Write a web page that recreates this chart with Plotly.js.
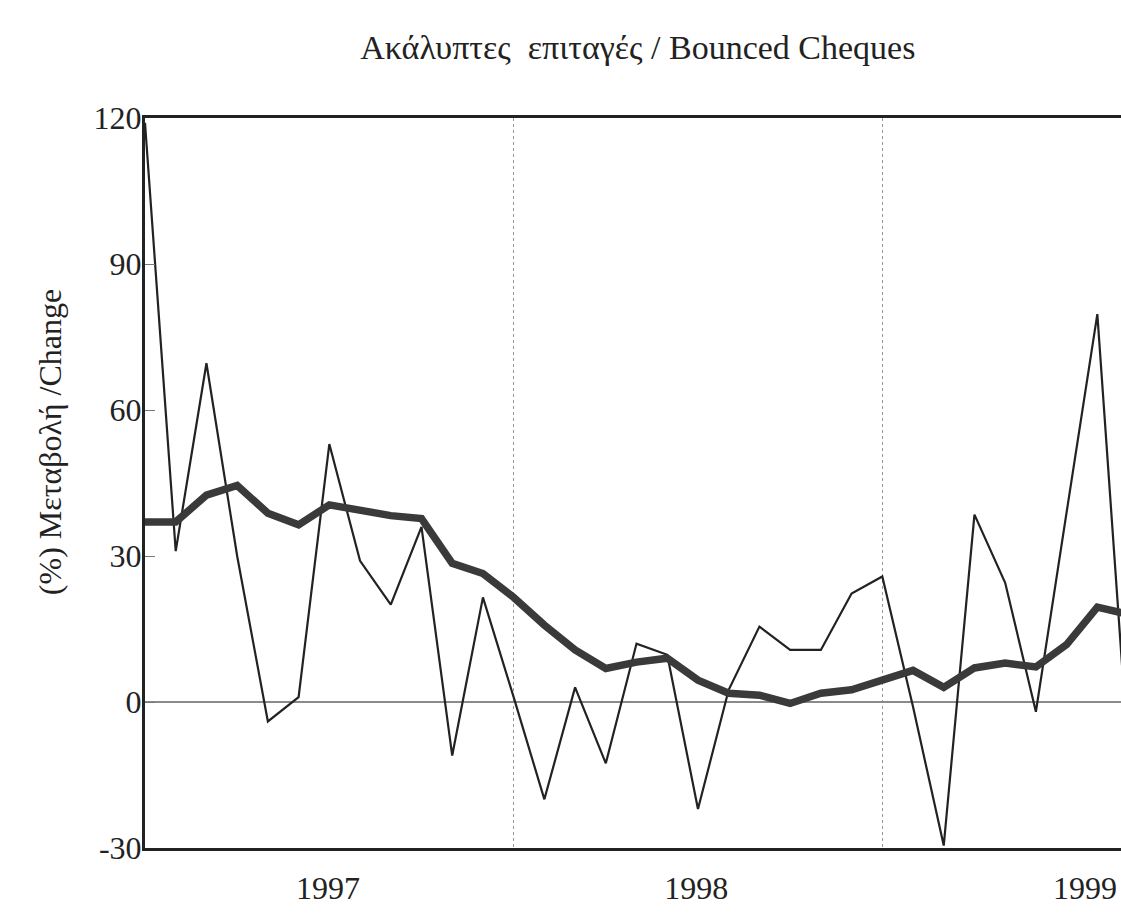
<!DOCTYPE html>
<html>
<head>
<meta charset="utf-8">
<script src="https://cdn.plot.ly/plotly-3.0.1.min.js"></script>
<style>
html, body { margin: 0; padding: 0; background: #ffffff; overflow: hidden; }
#chart { width: 1121px; height: 924px; }
</style>
</head>
<body>
<div id="chart"></div>
<script>
// Monthly observations, Jan 1997 .. Sep 1999
var months = ['1997-01','1997-02','1997-03','1997-04','1997-05','1997-06','1997-07','1997-08','1997-09','1997-10','1997-11','1997-12',
              '1998-01','1998-02','1998-03','1998-04','1998-05','1998-06','1998-07','1998-08','1998-09','1998-10','1998-11','1998-12',
              '1999-01','1999-02','1999-03','1999-04','1999-05','1999-06','1999-07','1999-08','1999-09'];

// Monthly % change (thin line)
var monthlyChange = [119, 31, 69.6, 30, -4, 1, 53, 29, 20, 36, -11, 21.5,
                     1, -20, 3, -12.6, 12, 9.7, -22, 2.5, 15.5, 10.7, 10.7, 22.3,
                     25.8, -1, -29.5, 38.5, 24.5, -2, 39, 79.7, -10];

// Smoothed % change (thick line)
var trendChange = [37, 37, 42.5, 44.5, 38.8, 36.4, 40.5, 39.4, 38.3, 37.7, 28.5, 26.4,
                   21.5, 15.8, 10.7, 6.9, 8.2, 9, 4.5, 1.8, 1.4, -0.3, 1.8, 2.5,
                   4.3, 6.5, 3, 7, 8, 7.2, 11.8, 19.5, 18];

// Year labels and y ticks
var yearLabels = ['1997', '1998', '1999'];
var yTicks = [-30, 0, 30, 60, 90, 120];
var yTickText = ['-30', '0', '30', '60', '90', '120'];

var xIdx = months.map(function (m, i) { return i; });

var FONT = 'Liberation Serif, Times New Roman, serif';

var traces = [
  {
    x: xIdx, y: monthlyChange, text: months, type: 'scatter', mode: 'lines',
    line: { color: '#222222', width: 2.2 }, hoverinfo: 'text+y', showlegend: false
  },
  {
    x: xIdx, y: trendChange, text: months, type: 'scatter', mode: 'lines',
    line: { color: '#3a3a3a', width: 7.5 }, hoverinfo: 'text+y', showlegend: false
  }
];

var layout = {
  width: 1121, height: 924,
  margin: { l: 145, r: 0, t: 118, b: 76, pad: 0 },
  paper_bgcolor: '#ffffff', plot_bgcolor: '#ffffff',
  showlegend: false,
  title: {
    text: 'Ακάλυπτες&nbsp;&nbsp;επιταγές / Bounced Cheques',
    font: { family: FONT, size: 34, color: '#222222' },
    xref: 'container', yref: 'container',
    x: 0.569, xanchor: 'center', y: 0.949, yanchor: 'middle'
  },
  xaxis: {
    range: [0, 31.77],
    showline: true, linecolor: '#222222', linewidth: 3, mirror: true,
    zeroline: false, showgrid: false,
    tickmode: 'array', tickvals: [5.96, 17.94, 30.6], ticktext: yearLabels,
    ticks: '', ticklabelstandoff: 10,
    tickfont: { family: FONT, size: 32, color: '#222222' },
    minor: { tickmode: 'array', tickvals: [12, 24], showgrid: true, gridcolor: '#999999', gridwidth: 1, griddash: 'dot', ticks: '' },
    fixedrange: true
  },
  yaxis: {
    range: [-30, 120],
    showline: true, linecolor: '#222222', linewidth: 3, mirror: false,
    showgrid: false,
    zeroline: true, zerolinecolor: '#8a8a8a', zerolinewidth: 1.2,
    tickmode: 'array', tickvals: yTicks, ticktext: yTickText,
    ticks: 'inside', ticklen: 10, tickwidth: 1, tickcolor: '#777777',
    ticklabelstandoff: -6,
    tickfont: { family: FONT, size: 32, color: '#222222' },
    fixedrange: true
  },
  annotations: [
    {
      text: '(%) Μεταβολή /Change',
      xref: 'paper', yref: 'paper',
      x: -0.0973, y: 0.556, xanchor: 'center', yanchor: 'middle',
      textangle: -90, showarrow: false,
      font: { family: FONT, size: 32, color: '#222222' }
    }
  ]
};

Plotly.newPlot('chart', traces, layout, { displayModeBar: false, staticPlot: true });
</script>
</body>
</html>
